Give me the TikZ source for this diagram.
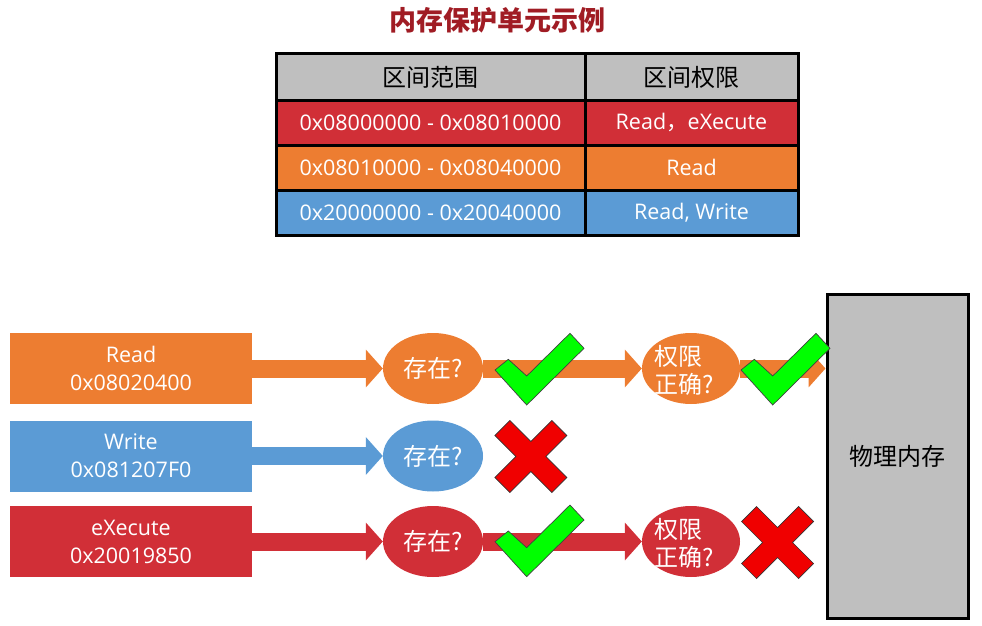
\documentclass[tikz,border=0pt]{standalone}
\usepackage{fontspec}
\setmainfont{Open Sans}
\newfontfamily\cjkfont{Noto Sans CJK SC}
\usetikzlibrary{arrows.meta,shapes.geometric,backgrounds}
\definecolor{mOrange}{HTML}{ED7D31}
\definecolor{mBlue}{HTML}{5B9BD5}
\definecolor{mRed}{HTML}{D12F37}
\definecolor{mGray}{HTML}{BFBFBF}
\definecolor{mTitle}{HTML}{A01C24}
\definecolor{mGreen}{HTML}{00FF00}
\definecolor{mX}{HTML}{F00000}
\begin{document}
\begin{tikzpicture}[x=1pt,y=-1pt,
  lat/.style={font=\fontsize{21.5}{28}\selectfont},
  cjk/.style={font=\cjkfont\fontsize{24}{28}\selectfont},
  cell/.style={draw=black, line width=3pt, inner sep=0pt, text=white},
  reqbox/.style={lat, rectangle, inner sep=0pt, minimum width=242pt, minimum height=71pt, text=white, align=center},
  qell/.style={cjk, ellipse, inner sep=0pt, minimum height=71pt, text=white},
  blockarrow/.style={line width=18pt, -{Triangle[length=17pt 0 0, width=37pt 0 0]}},
  checkmark/.pic={\draw[fill=mGreen, draw=black!75, line width=0.7pt]
     (0,0) -- (-31.7,-35) -- (-18.4,-45.7) -- (0,-29) -- (43.3,-71.7) -- (57.3,-56.7) -- cycle;},
  crossmark/.pic={\draw[fill=mX, draw=black!80, line width=0.7pt]
     (0,-15) -- (21,-36) -- (36,-21) -- (15,0) -- (36,21) -- (21,36) -- (0,15)
     -- (-21,36) -- (-36,21) -- (-15,0) -- (-36,-21) -- (-21,-36) -- cycle;}
]
\useasboundingbox (0,0) rectangle (982,626);

% title
\node[font=\cjkfont\fontsize{27}{32}\selectfont\bfseries, text=mTitle] (title) at (497,20) {内存保护单元示例};

% table
\node[cell, cjk, fill=mGray, text=black, minimum width=309pt, minimum height=46pt] (h1) at (430.5,77) {区间范围};
\node[cell, cjk, fill=mGray, text=black, minimum width=213pt, minimum height=46pt] (h2) at (691.5,77) {区间权限};
\node[cell, lat, fill=mRed, minimum width=309pt, minimum height=45pt] (a1) at (430.5,122.5) {0x08000000 - 0x08010000};
\node[cell, lat, fill=mRed, minimum width=213pt, minimum height=45pt] (b1) at (691.5,122.5) {Read{\cjkfont ，}eXecute};
\node[cell, lat, fill=mOrange, minimum width=309pt, minimum height=45pt] (a2) at (430.5,167.5) {0x08010000 - 0x08040000};
\node[cell, lat, fill=mOrange, minimum width=213pt, minimum height=45pt] (b2) at (691.5,167.5) {Read};
\node[cell, lat, fill=mBlue, minimum width=309pt, minimum height=45pt] (a3) at (430.5,212.5) {0x20000000 - 0x20040000};
\node[cell, lat, fill=mBlue, minimum width=213pt, minimum height=45pt] (b3) at (691.5,212.5) {Read, Write};

% physical memory
\node[cjk, draw=black, line width=3pt, fill=mGray, minimum width=141pt, minimum height=324pt, inner sep=0pt] (mem) at (897.5,456) {物理内存};

% request boxes
\node[reqbox, fill=mOrange] (r1) at (131,368.5) {Read\\0x08020400};
\node[reqbox, fill=mBlue] (r2) at (131,456) {Write\\0x081207F0};
\node[reqbox, fill=mRed] (r3) at (131,541.5) {eXecute\\0x20019850};

% ellipses
\node[qell, fill=mOrange, minimum width=100pt] (e1) at (433,368.5) {存在?};
\node[qell, fill=mBlue, minimum width=100pt] (e2) at (433,456) {存在?};
\node[qell, fill=mRed, minimum width=100pt] (e3) at (433,541.5) {存在?};
\node[qell, fill=mOrange, minimum width=98pt] (p1) at (691,368.5) {};
\node[qell, fill=mRed, minimum width=98pt] (p3) at (691,541.5) {};
\node[cjk, text=white, align=left, anchor=west, inner sep=0pt] (p1t) at (654,370.5) {权限\\正确?};
\node[cjk, text=white, align=left, anchor=west, inner sep=0pt] (p3t) at (654,543.5) {权限\\正确?};

% arrows
\begin{scope}[on background layer]
\draw[blockarrow, mOrange] (r1.east) -- (e1.west);
\draw[blockarrow, mOrange] (e1.east) -- (p1.west);
\draw[blockarrow, mOrange] (p1.east) -- (p1.east -| mem.west);
\draw[blockarrow, mBlue] (r2.east) -- (e2.west);
\draw[blockarrow, mRed] (r3.east) -- (e3.west);
\draw[blockarrow, mRed] (e3.east) -- (p3.west);
\end{scope}

% marks
\pic at (526.7,405) {checkmark};
\pic at (772.7,405) {checkmark};
\pic at (526.7,576.7) {checkmark};
\pic at (530.8,456.5) {crossmark};
\pic at (777.5,542.5) {crossmark};
\end{tikzpicture}
\end{document}
